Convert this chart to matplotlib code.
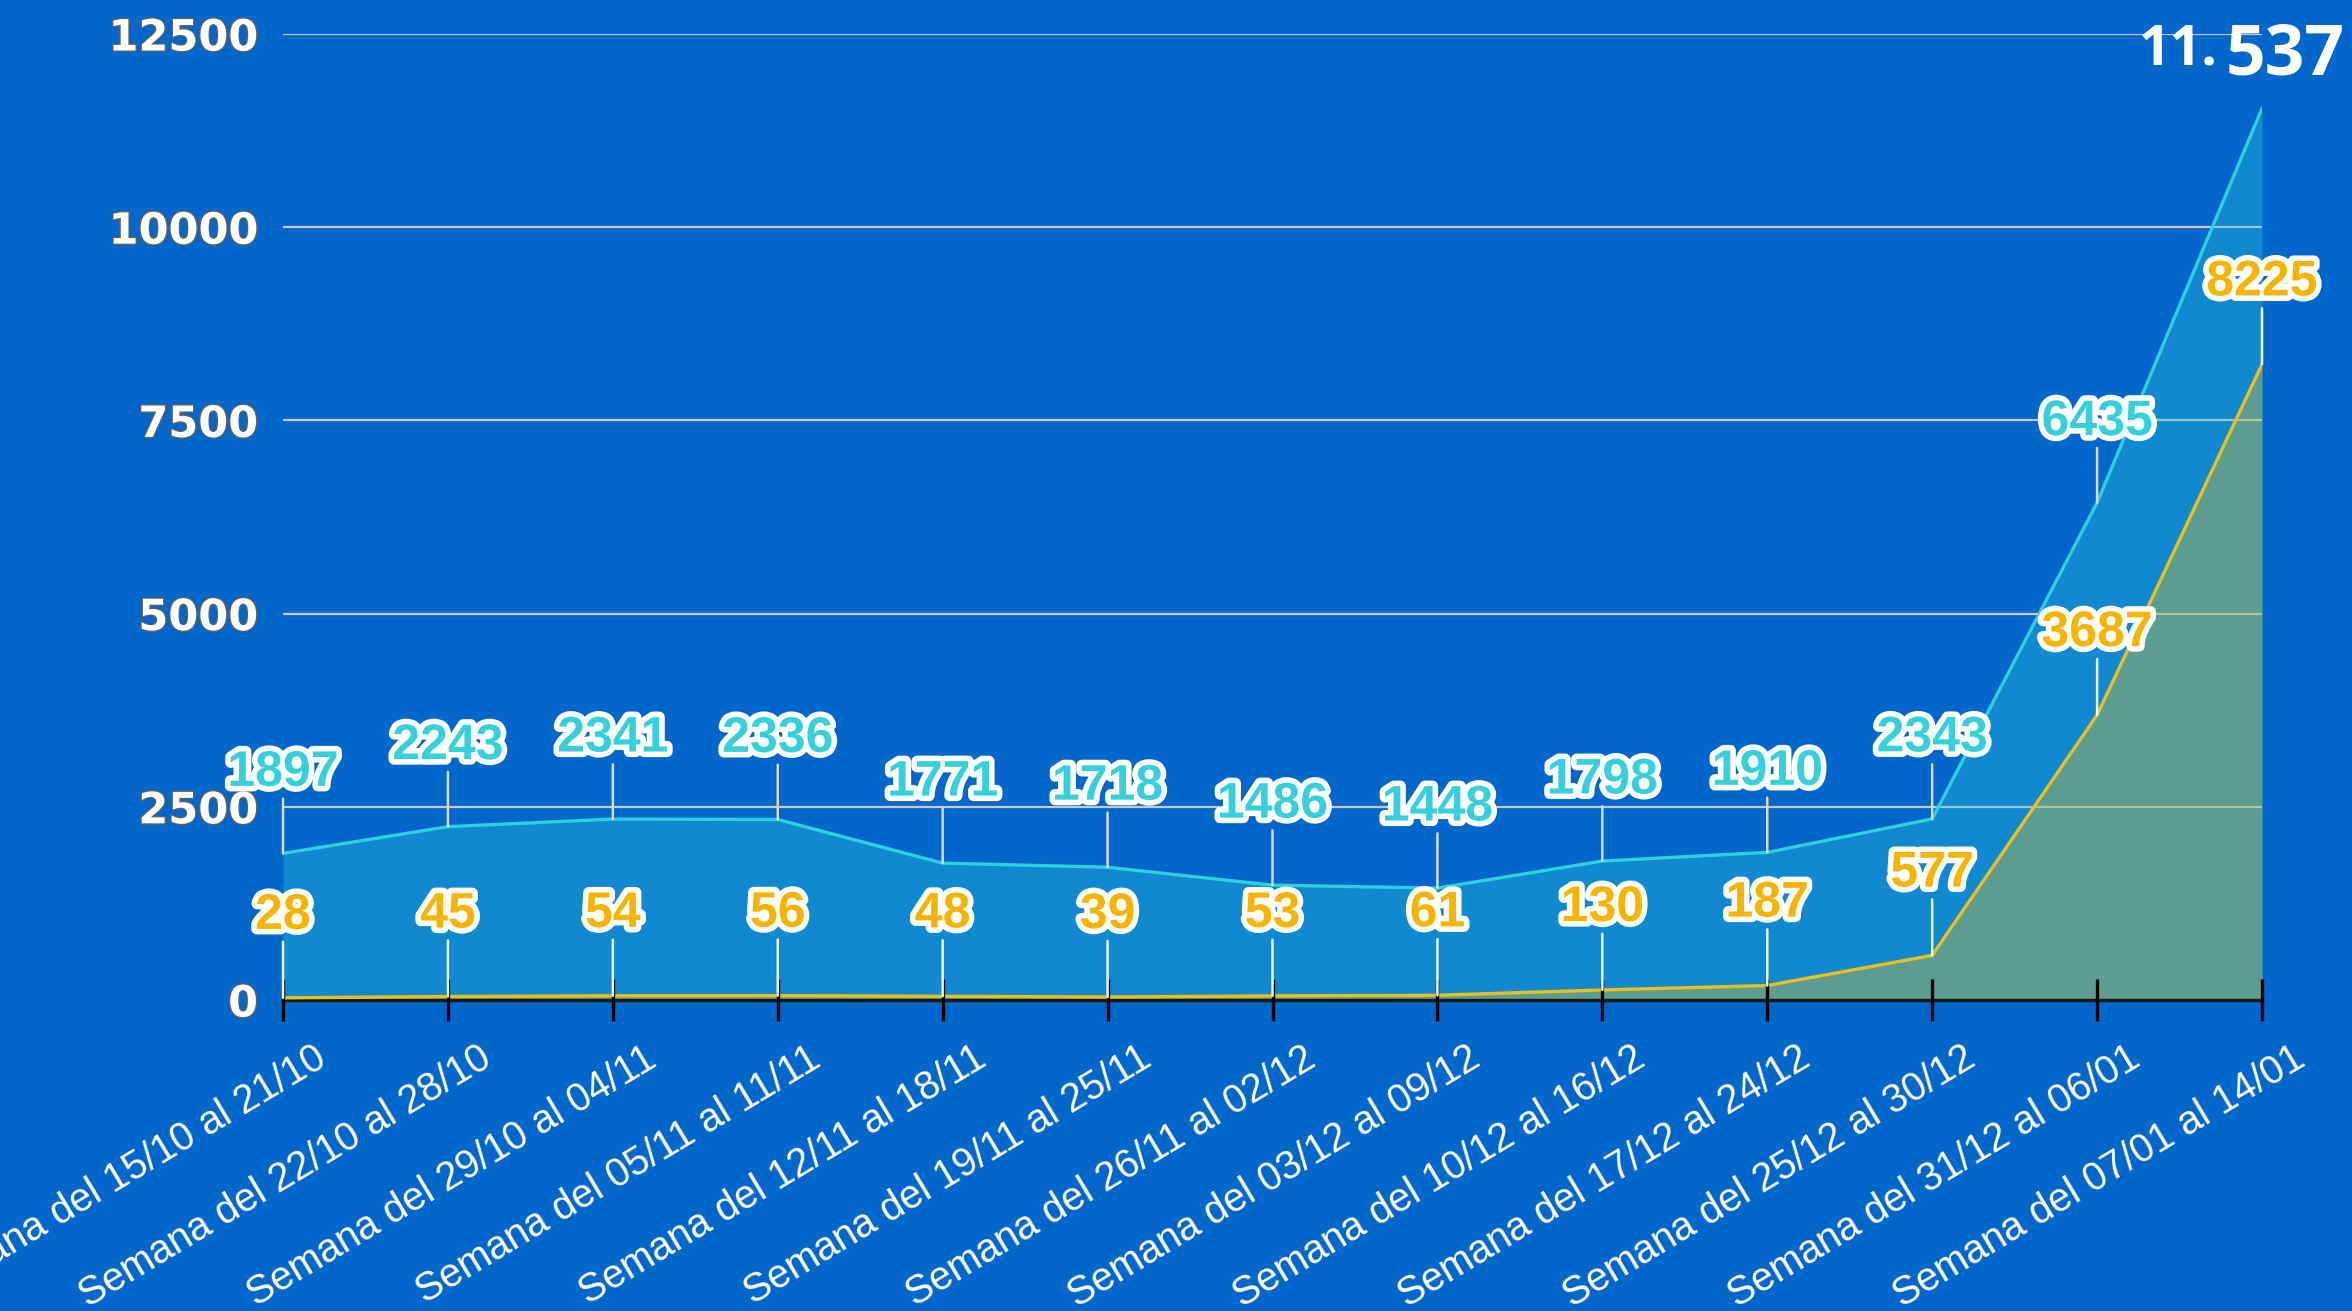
import numpy as np
import matplotlib
matplotlib.use("Agg")
import matplotlib.pyplot as plt
import matplotlib.patheffects as pe
from matplotlib.transforms import ScaledTranslation

# weekly data
semanas = ["Semana del 15/10 al 21/10", "Semana del 22/10 al 28/10", "Semana del 29/10 al 04/11",
           "Semana del 05/11 al 11/11", "Semana del 12/11 al 18/11", "Semana del 19/11 al 25/11",
           "Semana del 26/11 al 02/12", "Semana del 03/12 al 09/12", "Semana del 10/12 al 16/12",
           "Semana del 17/12 al 24/12", "Semana del 25/12 al 30/12", "Semana del 31/12 al 06/01",
           "Semana del 07/01 al 14/01"]
total = [1897, 2243, 2341, 2336, 1771, 1718, 1486, 1448, 1798, 1910, 2343, 6435, 11537]
amarillo = [28, 45, 54, 56, 48, 39, 53, 61, 130, 187, 577, 3687, 8225]
yticks = [0, 2500, 5000, 7500, 10000, 12500]

bg = "#0267CB"
cyan = "#2ECFDF"
cyan_txt = "#36D0DA"
yellow = "#E8C020"
yellow_txt = "#F6B300"

xs = np.arange(len(semanas))

fig = plt.figure(figsize=(23.52, 13.11), dpi=100, facecolor=bg)
ax = fig.add_axes([283 / 2352, 311 / 1311, (2262 - 283) / 2352, (1000 - 34) / 1311])
ax.set_facecolor(bg)

ax.set_xlim(0, len(semanas) - 1)
ax.set_ylim(0, 12500)

# grid
ax.set_yticks(yticks)
ax.yaxis.grid(True, color="#C8C8C8", linewidth=1.6)
ax.yaxis.set_zorder(0.5)
ax.xaxis.set_zorder(3.5)

# areas
ax.fill_between(xs, 0, total, color=cyan, alpha=0.33, linewidth=0, zorder=2)
ax.fill_between(xs, 0, amarillo, color=yellow, alpha=0.36, linewidth=0, zorder=2.1)
ax.plot(xs, total, color=cyan, linewidth=2.4, zorder=3)
ax.plot(xs, amarillo, color=yellow, linewidth=2.4, zorder=3.1)

stroke = [pe.withStroke(linewidth=8, foreground="white")]

# value labels with leader lines
for i in range(len(xs) - 1):
    ax.annotate(str(total[i]), xy=(xs[i], total[i]), xytext=(0, 58), textcoords="offset points",
                ha="center", va="center", fontsize=36, fontweight="bold", family="Liberation Sans",
                color=cyan_txt, path_effects=stroke, zorder=5, annotation_clip=False,
                arrowprops=dict(arrowstyle="-", color="#D8D8D8", lw=1.8, shrinkA=0, shrinkB=0))
for i in range(len(xs)):
    ax.annotate(str(amarillo[i]), xy=(xs[i], amarillo[i]), xytext=(0, 59), textcoords="offset points",
                ha="center", va="center", fontsize=36, fontweight="bold", family="Liberation Sans",
                color=yellow_txt, path_effects=stroke, zorder=5, annotation_clip=False,
                arrowprops=dict(arrowstyle="-", color="#EAF6FA", lw=1.8, shrinkA=0, shrinkB=0))

# big label for the last week
ax.annotate("11.", xy=(xs[-1], total[-1]), xytext=(-44, 44), textcoords="offset pixels",
            ha="right", va="baseline", fontsize=40, fontweight="bold", family="Open Sans",
            color="white", zorder=6, annotation_clip=False)
ax.annotate("537", xy=(xs[-1], total[-1]), xytext=(-36, 34), textcoords="offset pixels",
            ha="left", va="baseline", fontsize=50, fontweight="bold", family="Open Sans",
            color="white", zorder=6, annotation_clip=False)

# axes styling
for s in ["top", "right", "left"]:
    ax.spines[s].set_visible(False)
ax.spines["bottom"].set_color("#1A1A1A")
ax.spines["bottom"].set_linewidth(2.5)
ax.spines["bottom"].set_zorder(2.5)

ax.set_yticklabels([str(v) for v in yticks])
ax.tick_params(axis="y", length=0, pad=18, labelsize=31, labelcolor="white")
for lbl in ax.get_yticklabels():
    lbl.set_fontweight("heavy")
    lbl.set_family("DejaVu Sans")
    lbl.set_path_effects([pe.withStroke(linewidth=2, foreground="#606060")])

ax.set_xticks(xs)
ax.set_xticklabels(semanas)
ax.tick_params(axis="x", direction="inout", length=30, width=2.4, color="black", pad=13,
               labelsize=28.5, labelcolor="white")
offset = ScaledTranslation(0.3, 0, fig.dpi_scale_trans)
for lbl in ax.get_xticklabels():
    lbl.set_rotation(31)
    lbl.set_ha("right")
    lbl.set_va("top")
    lbl.set_rotation_mode("anchor")
    lbl.set_family("Liberation Sans")
    lbl.set_transform(lbl.get_transform() + offset)

fig.savefig("out.png", dpi=100, facecolor=bg)
